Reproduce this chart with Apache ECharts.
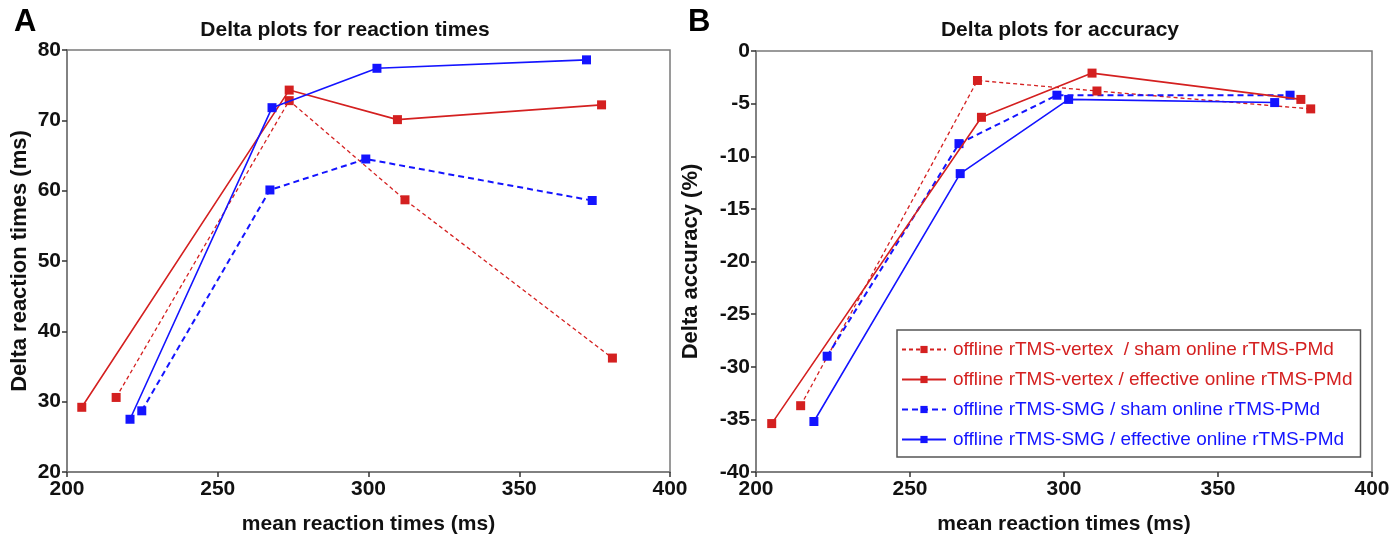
<!DOCTYPE html>
<html><head><meta charset="utf-8">
<script src="https://cdn.jsdelivr.net/npm/echarts@6/dist/echarts.min.js"></script>
<style>html,body{margin:0;padding:0;background:#fff}#c{width:1395px;height:540px}</style>
</head><body><div id="c"></div>
<script>
// Panel A: delta reaction times
const rtVertexShamX = [216.3, 273.7, 312.1, 380.9];
const rtVertexShamY = [30.6, 72.8, 58.7, 36.2];
const rtVertexEffX = [204.9, 273.7, 309.6, 377.3];
const rtVertexEffY = [29.2, 74.3, 70.1, 72.2];
const rtSmgShamX = [224.8, 267.3, 299.1, 374.2];
const rtSmgShamY = [28.7, 60.1, 64.5, 58.6];
const rtSmgEffX = [220.9, 268.0, 302.8, 372.3];
const rtSmgEffY = [27.5, 71.8, 77.4, 78.6];
// Panel B: delta accuracy
const accVertexShamX = [214.5, 271.9, 310.7, 380.1];
const accVertexShamY = [-33.7, -2.8, -3.8, -5.5];
const accVertexEffX = [205.1, 273.2, 309.1, 376.9];
const accVertexEffY = [-35.4, -6.3, -2.1, -4.6];
const accSmgShamX = [223.1, 265.9, 297.7, 373.4];
const accSmgShamY = [-29.0, -8.8, -4.2, -4.2];
const accSmgEffX = [218.8, 266.3, 301.5, 368.4];
const accSmgEffY = [-35.2, -11.65, -4.6, -4.9];
const seriesNames = [
  'offline rTMS-vertex  / sham online rTMS-PMd',
  'offline rTMS-vertex / effective online rTMS-PMd',
  'offline rTMS-SMG / sham online rTMS-PMd',
  'offline rTMS-SMG / effective online rTMS-PMd'
];
const titles = ['Delta plots for reaction times', 'Delta plots for accuracy'];
const xName = 'mean reaction times (ms)';
const yNames = ['Delta reaction times (ms)', 'Delta accuracy (%)'];

const RED = '#d42020', BLUE = '#1414ff';
const SANS = '"Liberation Sans", Arial, sans-serif';
const zip = (xs, ys) => xs.map((x, i) => [x, ys[i]]);

const styles = [
  {color: RED, type: [4, 3], width: 1.3},
  {color: RED, type: 'solid', width: 1.6},
  {color: BLUE, type: [6, 4], width: 2},
  {color: BLUE, type: 'solid', width: 1.6}
];
const dataA = [zip(rtVertexShamX, rtVertexShamY), zip(rtVertexEffX, rtVertexEffY), zip(rtSmgShamX, rtSmgShamY), zip(rtSmgEffX, rtSmgEffY)];
const dataB = [zip(accVertexShamX, accVertexShamY), zip(accVertexEffX, accVertexEffY), zip(accSmgShamX, accSmgShamY), zip(accSmgEffX, accSmgEffY)];

const series = [];
[dataA, dataB].forEach((set, gi) => {
  set.forEach((d, si) => {
    series.push({
      type: 'line', name: seriesNames[si], xAxisIndex: gi, yAxisIndex: gi, data: d,
      symbol: 'rect', symbolSize: 9, showSymbol: true,
      lineStyle: {color: styles[si].color, type: styles[si].type, width: styles[si].width},
      itemStyle: {color: styles[si].color},
      animation: false, z: si === 3 || si === 1 ? 3 : 2
    });
  });
});

const axisLineStyle = {show: true, onZero: false, lineStyle: {color: '#7a7a7a', width: 1.5}};
const tickLabel = {fontFamily: SANS, fontWeight: 'bold', fontSize: 21, color: '#111'};
function xAxis(gi) {
  return {type: 'value', gridIndex: gi, min: 200, max: 400, interval: 50,
    axisLine: axisLineStyle, axisTick: {show: true, length: 5, lineStyle: {color: '#333', width: 1.5}},
    axisLabel: Object.assign({margin: 7}, tickLabel), splitLine: {show: false},
    name: xName, nameLocation: 'middle', nameGap: 42,
    nameTextStyle: {fontFamily: SANS, fontWeight: 'bold', fontSize: 21, color: '#111'}};
}
function yAxis(gi, min, max, interval) {
  return {type: 'value', gridIndex: gi, min, max, interval,
    axisLine: axisLineStyle, axisTick: {show: true, length: 5, lineStyle: {color: '#333', width: 1.5}},
    axisLabel: Object.assign({margin: 6}, tickLabel), splitLine: {show: false},
    name: yNames[gi], nameLocation: 'middle', nameGap: gi === 0 ? 36 : 54,
    nameTextStyle: {fontFamily: SANS, fontWeight: 'bold', fontSize: 22, color: '#111'}};
}

const chart = echarts.init(document.getElementById('c'), null, {renderer: 'canvas'});
chart.setOption({
  backgroundColor: '#fff',
  animation: false,
  title: [
    {text: 'A', left: 9, top: 2, textStyle: {fontFamily: SANS, fontWeight: 'bold', fontSize: 31, color: '#000'}},
    {text: 'B', left: 683, top: 2, textStyle: {fontFamily: SANS, fontWeight: 'bold', fontSize: 31, color: '#000'}},
    {text: titles[0], left: 340, top: 15, textAlign: 'center', textStyle: {fontFamily: SANS, fontWeight: 'bold', fontSize: 21, color: '#111'}},
    {text: titles[1], left: 1055, top: 15, textAlign: 'center', textStyle: {fontFamily: SANS, fontWeight: 'bold', fontSize: 21, color: '#111'}}
  ],
  grid: [
    {left: 67, top: 50, width: 603, height: 423, show: true, borderColor: '#7a7a7a', borderWidth: 1.5, backgroundColor: 'transparent'},
    {left: 756, top: 51, width: 616, height: 421, show: true, borderColor: '#7a7a7a', borderWidth: 1.5, backgroundColor: 'transparent'}
  ],
  xAxis: [xAxis(0), xAxis(1)],
  yAxis: [yAxis(0, 20, 80, 10), yAxis(1, -40, 0, 5)],
  legend: {
    show: true, orient: 'vertical', left: 897, top: 330, width: 463,
    padding: [10, 8, 8, 4], itemGap: 11, itemWidth: 44, itemHeight: 9,
    borderColor: '#555', borderWidth: 1.5, backgroundColor: '#fff',
    selectedMode: false,
    data: seriesNames.map((n, i) => ({name: n, textStyle: {color: styles[i].color}})),
    textStyle: {fontFamily: SANS, fontSize: 19, padding: [0, 0, 0, 2]}
  },
  series
});
</script></body></html>
